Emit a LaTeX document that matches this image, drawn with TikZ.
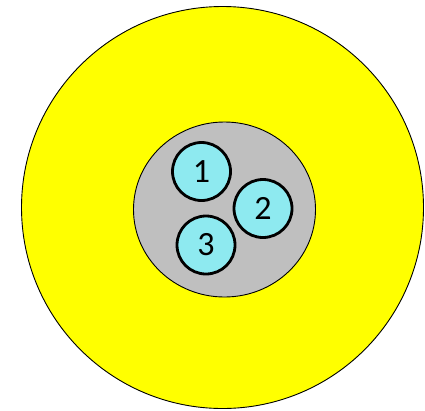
\documentclass[tikz,border=0pt]{standalone}
\usepackage{fontspec}
\setmainfont{Carlito}
\usetikzlibrary{shapes.geometric}
\definecolor{cabYellow}{HTML}{FFFF00}
\definecolor{cabGrey}{HTML}{BFBFBF}
\definecolor{cabCyan}{HTML}{8EEAF0}
\tikzset{
  jacket/.style={circle, draw=black, line width=0.9pt, fill=cabYellow,
              minimum size=402pt, inner sep=0pt},
  core/.style={ellipse, draw=black, line width=0.9pt, fill=cabGrey,
              minimum width=182pt, minimum height=175pt, inner sep=0pt},
  fibre/.style={circle, draw=black, line width=2.8pt, fill=cabCyan,
              minimum size=58pt, inner sep=0pt, font=\fontsize{34}{34}\selectfont},
}
\begin{document}
\begin{tikzpicture}[x=1pt,y=-1pt]
    \useasboundingbox (0,0) rectangle (425,410);
    % outer jacket and core
    \node[jacket] (jacket) at (222.5,207.5){};
    \node[core] (core) at (224.5,209.5){};

    % fibres
    \node[fibre] (f1) at (201.5,171.5){1};
    \node[fibre] (f2) at (263,208.5){2};
    \node[fibre] (f3) at (206,245){3};
  \end{tikzpicture}
\end{document}
